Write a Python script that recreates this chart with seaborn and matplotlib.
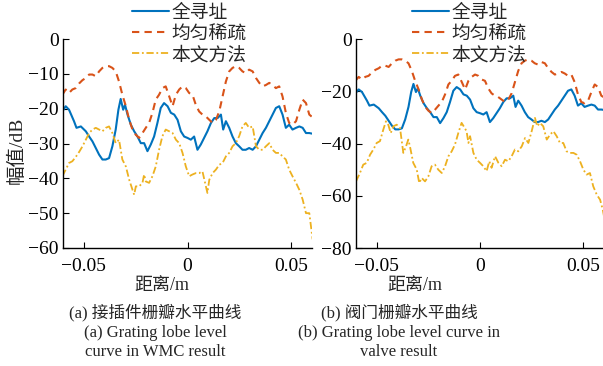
import numpy as np
import pandas as pd
import matplotlib
matplotlib.use("Agg")
import matplotlib.pyplot as plt
import seaborn as sns

# ---------------- data ----------------
legend_labels = ["全寻址", "均匀稀疏", "本文方法"]

# full addressing (same in both panels)
blue_x = [-0.0603, -0.0587, -0.0571, -0.0547, -0.0535, -0.0514, -0.0490, -0.0474, -0.0458, -0.0442,
          -0.0426, -0.0410, -0.0394, -0.0378, -0.0362, -0.0346, -0.0333, -0.0322, -0.0310, -0.0301,
          -0.0289, -0.0273, -0.0257, -0.0241, -0.0225, -0.0209, -0.0193, -0.0177, -0.0161, -0.0145,
          -0.0129, -0.0113, -0.0096, -0.0080, -0.0064, -0.0048, -0.0032, -0.0016, 0.0, 0.0016,
          0.0032, 0.0048, 0.0064, 0.0080, 0.0096, 0.0113, 0.0129, 0.0145, 0.0161, 0.0172,
          0.0185, 0.0201, 0.0217, 0.0233, 0.0249, 0.0265, 0.0281, 0.0297, 0.0314, 0.0330,
          0.0346, 0.0362, 0.0378, 0.0394, 0.0410, 0.0426, 0.0442, 0.0458, 0.0474, 0.0490,
          0.0506, 0.0523, 0.0539, 0.0555, 0.0571, 0.0587, 0.0603]
blue_y = [-20.8, -19.3, -20.3, -23.6, -25.5, -25.1, -26.5, -28.0, -29.4, -31.3,
          -33.2, -34.6, -34.6, -34.2, -30.8, -26.0, -20.3, -17.2, -20.3, -18.9,
          -21.7, -24.6, -26.5, -28.0, -29.9, -29.9, -32.2, -30.3, -28.0, -24.1,
          -19.8, -18.4, -19.3, -21.2, -21.7, -23.2, -26.5, -28.0, -28.4, -28.9,
          -28.0, -31.8, -30.3, -28.4, -26.5, -24.1, -22.7, -22.7, -21.7, -26.0,
          -23.6, -25.5, -28.0, -29.9, -30.8, -31.8, -31.8, -31.3, -31.8, -30.8,
          -28.9, -27.0, -25.5, -23.6, -21.7, -19.8, -19.3, -21.7, -25.5, -24.6,
          -26.0, -25.5, -25.1, -25.5, -27.0, -27.0, -27.2]

# uniform sparse (same in both panels)
red_x = [-0.0603, -0.0587, -0.0571, -0.0555, -0.0539, -0.0523, -0.0506, -0.0490, -0.0474, -0.0458,
         -0.0442, -0.0426, -0.0410, -0.0394, -0.0378, -0.0362, -0.0346, -0.0330, -0.0314, -0.0297,
         -0.0281, -0.0265, -0.0249, -0.0233, -0.0217, -0.0201, -0.0185, -0.0169, -0.0153, -0.0137,
         -0.0121, -0.0105, -0.0088, -0.0072, -0.0056, -0.0040, -0.0024, -0.0008, 0.0008, 0.0024,
         0.0040, 0.0056, 0.0072, 0.0088, 0.0105, 0.0121, 0.0137, 0.0153, 0.0169, 0.0185,
         0.0201, 0.0217, 0.0233, 0.0249, 0.0265, 0.0281, 0.0297, 0.0314, 0.0330, 0.0346,
         0.0362, 0.0378, 0.0394, 0.0410, 0.0426, 0.0442, 0.0458, 0.0474, 0.0490, 0.0506,
         0.0523, 0.0539, 0.0555, 0.0571, 0.0587, 0.0603]
red_y = [-16.0, -14.5, -15.5, -14.5, -14.1, -12.8, -11.8, -11.2, -10.2, -10.2,
         -10.7, -9.3, -8.3, -7.8, -7.8, -8.3, -9.3, -12.2, -16.0, -19.3,
         -23.2, -26.0, -27.5, -28.4, -27.0, -25.5, -24.1, -21.2, -17.4, -16.0,
         -14.1, -13.6, -16.5, -19.3, -16.0, -14.5, -13.6, -14.1, -15.5, -16.0,
         -18.9, -20.8, -21.7, -22.2, -23.2, -24.1, -23.2, -20.8, -16.5, -12.2,
         -9.3, -8.3, -7.8, -8.3, -9.3, -9.8, -8.8, -9.3, -11.2, -12.6,
         -13.6, -13.2, -12.6, -13.2, -14.1, -13.6, -16.5, -21.2, -24.1, -24.6,
         -23.6, -20.3, -17.4, -18.4, -21.7, -22.5]

# proposed method, panel (a)
yel_a_x = [-0.0603, -0.0587, -0.0571, -0.0555, -0.0539, -0.0523, -0.0506, -0.0490, -0.0474, -0.0458,
           -0.0442, -0.0426, -0.0410, -0.0394, -0.0378, -0.0362, -0.0346, -0.0330, -0.0314, -0.0297,
           -0.0281, -0.0265, -0.0257, -0.0249, -0.0233, -0.0217, -0.0209, -0.0201, -0.0185, -0.0169,
           -0.0153, -0.0137, -0.0121, -0.0105, -0.0088, -0.0072, -0.0056, -0.0040, -0.0024, -0.0008,
           0.0008, 0.0024, 0.0040, 0.0056, 0.0072, 0.0096, 0.0105, 0.0121, 0.0137, 0.0153,
           0.0169, 0.0185, 0.0201, 0.0217, 0.0233, 0.0249, 0.0265, 0.0281, 0.0297, 0.0314,
           0.0330, 0.0346, 0.0362, 0.0378, 0.0394, 0.0410, 0.0426, 0.0442, 0.0458, 0.0474,
           0.0490, 0.0506, 0.0523, 0.0539, 0.0555, 0.0571, 0.0587, 0.0603]
yel_a_y = [-39.4, -37.5, -35.6, -35.1, -33.9, -32.5, -30.8, -28.9, -27.0, -26.0,
           -25.5, -26.0, -26.5, -25.5, -25.1, -27.0, -29.9, -28.9, -34.6, -36.6,
           -40.4, -43.3, -44.7, -42.3, -42.3, -41.3, -38.9, -40.9, -41.3, -39.4,
           -36.6, -31.8, -27.9, -26.0, -26.5, -27.0, -28.9, -29.9, -32.7, -36.6,
           -39.4, -38.9, -38.5, -38.5, -38.0, -44.2, -40.4, -38.5, -37.5, -36.1,
           -35.6, -33.7, -32.7, -30.8, -29.9, -27.9, -25.1, -24.1, -25.5, -25.1,
           -30.8, -31.8, -31.8, -30.8, -29.9, -31.8, -32.7, -32.7, -33.7, -34.6,
           -37.5, -39.4, -41.3, -43.3, -46.1, -50.0, -50.0, -57.5]

# proposed method, panel (b)
yel_b_x = [-0.0600, -0.0581, -0.0565, -0.0548, -0.0532, -0.0516, -0.0500, -0.0484, -0.0468, -0.0455,
           -0.0444, -0.0432, -0.0419, -0.0403, -0.0387, -0.0371, -0.0358, -0.0347, -0.0339, -0.0323,
           -0.0306, -0.0294, -0.0282, -0.0266, -0.0250, -0.0234, -0.0218, -0.0202, -0.0185, -0.0169,
           -0.0153, -0.0137, -0.0121, -0.0105, -0.0089, -0.0076, -0.0065, -0.0056, -0.0048, -0.0032,
           -0.0016, 0.0, 0.0016, 0.0032, 0.0045, 0.0056, 0.0073, 0.0089, 0.0105, 0.0121,
           0.0137, 0.0153, 0.0169, 0.0185, 0.0202, 0.0218, 0.0234, 0.0250, 0.0266, 0.0277,
           0.0290, 0.0306, 0.0323, 0.0339, 0.0355, 0.0371, 0.0387, 0.0403, 0.0419, 0.0435,
           0.0452, 0.0468, 0.0484, 0.0500, 0.0516, 0.0532, 0.0548, 0.0565, 0.0581, 0.0594,
           0.0606]
yel_b_y = [-54.5, -51.3, -48.1, -47.4, -44.3, -42.3, -39.8, -39.1, -34.7, -31.5,
           -32.8, -36.0, -33.4, -32.8, -34.1, -43.6, -41.1, -38.5, -41.1, -47.4,
           -50.0, -55.1, -53.2, -54.5, -52.6, -48.7, -48.1, -50.0, -51.3, -48.7,
           -44.9, -43.0, -40.4, -36.0, -32.1, -33.8, -35.3, -39.8, -37.2, -43.6,
           -46.2, -47.4, -48.7, -50.6, -46.8, -49.3, -44.9, -47.4, -48.7, -46.2,
           -46.8, -44.9, -42.3, -43.0, -41.1, -37.9, -39.8, -35.3, -30.2, -33.4,
           -32.1, -33.4, -38.5, -36.6, -35.3, -37.2, -39.8, -39.8, -43.0, -43.6,
           -43.6, -44.3, -46.8, -50.0, -51.9, -51.3, -56.4, -59.6, -61.5, -65.3,
           -70.5]

x_ticks = [-0.05, 0, 0.05]
x_ticklabels = ["\u22120.05", "0", "0.05"]
y_ticks_a = [0, -10, -20, -30, -40, -50, -60]
y_ticks_b = [0, -20, -40, -60, -80]
x_label = "距离/m"
y_label = "幅值/dB"
caption_a = ["(a) 接插件栅瓣水平曲线", "(a) Grating lobe level", "curve in WMC result"]
caption_b = ["(b) 阀门栅瓣水平曲线", "(b) Grating lobe level curve in", "valve result"]

# ---------------- style ----------------
sns.set_style("ticks")
FAM = ["Liberation Serif", "Noto Sans CJK SC"]
plt.rcParams["font.family"] = FAM
plt.rcParams["axes.unicode_minus"] = True

colors = ["#0072BD", "#D95319", "#EDB120"]
styles = ["-", (0, (3.5, 2.5)), (0, (4, 1.5, 1, 1.5))]
widths = [1.5, 1.5, 1.3]

W, H = 603, 366
fig = plt.figure(figsize=(W / 100, H / 100), dpi=100)


def px_rect(l, t, r, b):
    return [l / W, 1 - b / H, (r - l) / W, (b - t) / H]


ax_a = fig.add_axes(px_rect(63, 39, 312, 248))
ax_b = fig.add_axes(px_rect(356, 39, 604, 248))

panels = [
    (ax_a, yel_a_x, yel_a_y, (-60, 0), y_ticks_a, 132),
    (ax_b, yel_b_x, yel_b_y, (-80, 0), y_ticks_b, 412),
]

for ax, yx, yy, ylim, yticks, leg_x in panels:
    series = [(blue_x, blue_y), (red_x, red_y), (yx, yy)]
    for (sx, sy), c, ls, lw, lab in zip(series, colors, styles, widths, legend_labels):
        df = pd.DataFrame({"x": sx, "y": sy})
        sns.lineplot(data=df, x="x", y="y", ax=ax, color=c, linewidth=lw,
                     linestyle=ls, label=lab, sort=True, estimator=None)
    ax.set_xlim(-0.06, 0.06)
    ax.set_ylim(*ylim)
    ax.set_xticks(x_ticks)
    ax.set_xticklabels(x_ticklabels)
    ax.set_yticks(yticks)
    ax.set_yticklabels([("\u2212%d" % -t) if t < 0 else "0" for t in yticks])
    ax.set_xlabel("")
    ax.set_ylabel("")
    for s in ["top", "right"]:
        ax.spines[s].set_visible(False)
    for s in ["left", "bottom"]:
        ax.spines[s].set_linewidth(1.0)
        ax.spines[s].set_color("black")
    ax.tick_params(direction="in", length=4, width=0.8, labelsize=14, colors="black")
    ax.tick_params(axis="x", pad=7)
    ax.tick_params(axis="y", pad=3)
    ax.patch.set_alpha(0)
    leg = ax.legend(loc="upper left", bbox_to_anchor=(leg_x / W, 1 - 2 / H),
                    bbox_transform=fig.transFigure, frameon=False,
                    borderpad=0, borderaxespad=0, handlelength=1.95,
                    handletextpad=0.15, labelspacing=0.0,
                    prop={"family": ["Noto Sans CJK SC"], "size": 13.5})

fig.text(17 / W, 1 - 150 / H, y_label, rotation=90, ha="center", va="center",
         fontsize=14, family=FAM)
fig.text(162 / W, 1 - 285 / H, x_label, ha="center", va="center", fontsize=13, family=FAM)
fig.text(415 / W, 1 - 285 / H, x_label, ha="center", va="center", fontsize=13, family=FAM)

for cx, lines in [(155, caption_a), (399, caption_b)]:
    for yy, t in zip([313, 333, 352], lines):
        fig.text(cx / W, 1 - yy / H, t, ha="center", va="center", fontsize=12, family=FAM)

fig.savefig("out.png", dpi=100)
